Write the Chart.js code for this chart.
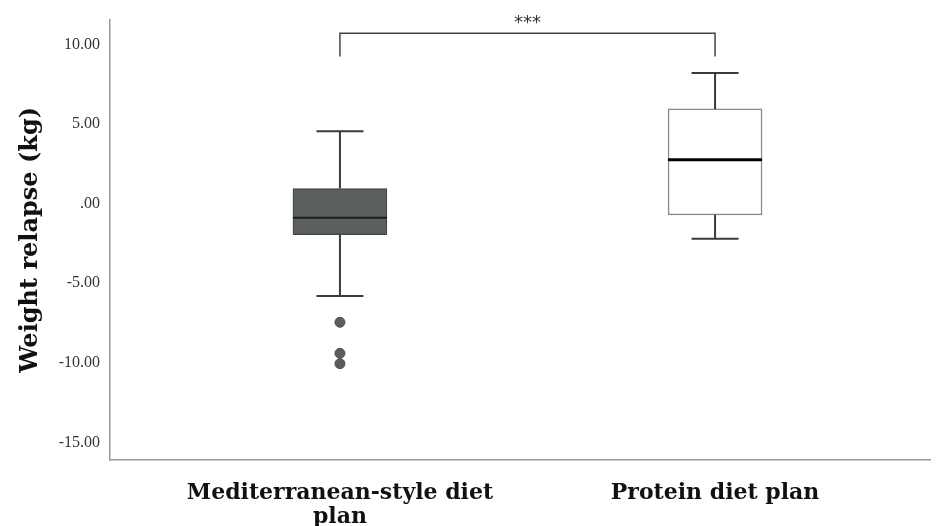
<!DOCTYPE html>
<html>
<head>
<meta charset="utf-8">
<script src="https://cdn.jsdelivr.net/npm/chart.js@4.4.1/dist/chart.umd.min.js"></script>
<style>
  html, body { margin: 0; padding: 0; background: #fff; }
  #wrap { width: 937px; height: 526px; }
</style>
</head>
<body>
<div id="wrap"><canvas id="boxChart"></canvas></div>
<script>
// box plot values (kg)
const categories = [['Mediterranean-style diet', 'plan'], 'Protein diet plan'];
const positions = [1, 2];
const whiskLow = [-5.8, -2.2];
const q1 = [-1.95, -0.7];
const median = [-0.88, 2.75];
const q3 = [0.95, 5.95];
const whiskHigh = [4.55, 8.2];
const outliers = [[-7.45, -9.4, -10.05], []];
const yTicks = [-15, -10, -5, 0, 5, 10];
const sigLabel = '***';

const boxPlugin = {
    id: 'boxParts',
    afterDatasetsDraw(chart) {
        const ctx = chart.ctx;
        const x = chart.scales.x, y = chart.scales.y;
        const bars = chart.getDatasetMeta(0).data;
        ctx.save();
        positions.forEach(function (p, i) {
            const cx = x.getPixelForValue(p);
            const w = bars[i].width;
            const cap = w / 2;
            ctx.strokeStyle = '#3a3a3a';
            ctx.lineWidth = 2;
            ctx.beginPath();
            ctx.moveTo(cx, y.getPixelForValue(q3[i]));
            ctx.lineTo(cx, y.getPixelForValue(whiskHigh[i]));
            ctx.moveTo(cx, y.getPixelForValue(q1[i]));
            ctx.lineTo(cx, y.getPixelForValue(whiskLow[i]));
            ctx.moveTo(cx - cap / 2, y.getPixelForValue(whiskHigh[i]));
            ctx.lineTo(cx + cap / 2, y.getPixelForValue(whiskHigh[i]));
            ctx.moveTo(cx - cap / 2, y.getPixelForValue(whiskLow[i]));
            ctx.lineTo(cx + cap / 2, y.getPixelForValue(whiskLow[i]));
            ctx.stroke();
            // median
            ctx.strokeStyle = i === 0 ? '#1c1f1d' : '#000';
            ctx.lineWidth = i === 0 ? 2 : 3;
            ctx.beginPath();
            ctx.moveTo(cx - w / 2, y.getPixelForValue(median[i]));
            ctx.lineTo(cx + w / 2, y.getPixelForValue(median[i]));
            ctx.stroke();
        });
        // significance bracket
        const xa = x.getPixelForValue(positions[0]);
        const xb = x.getPixelForValue(positions[1]);
        const top = y.getPixelForValue(10.7);
        const leg = y.getPixelForValue(9.25);
        ctx.strokeStyle = '#444';
        ctx.lineWidth = 1.5;
        ctx.beginPath();
        ctx.moveTo(xa, leg);
        ctx.lineTo(xa, top);
        ctx.lineTo(xb, top);
        ctx.lineTo(xb, leg);
        ctx.stroke();
        ctx.fillStyle = '#333';
        ctx.font = '18px "DejaVu Sans"';
        ctx.textAlign = 'center';
        ctx.textBaseline = 'bottom';
        ctx.fillText(sigLabel, (xa + xb) / 2, top - 1);
        ctx.restore();
    }
};

const outlierPoints = [];
outliers.forEach(function (list, i) {
    list.forEach(function (v) { outlierPoints.push({ x: positions[i], y: v }); });
});

new Chart(document.getElementById('boxChart'), {
    type: 'bar',
    data: {
        datasets: [{
            type: 'bar',
            data: positions.map(function (p, i) { return { x: p, y: [q1[i], q3[i]] }; }),
            backgroundColor: ['#5b605d', '#ffffff'],
            borderColor: ['#474a48', '#8a8a8a'],
            borderWidth: 1.5,
            borderSkipped: false,
            barThickness: 94
        }, {
            type: 'scatter',
            data: outlierPoints,
            pointRadius: 5,
            pointBackgroundColor: '#5a5d5b',
            pointBorderColor: '#4a4d4b',
            pointBorderWidth: 1
        }]
    },
    options: {
        responsive: true,
        maintainAspectRatio: false,
        animation: false,
        layout: { padding: { top: 17, right: 7, left: 0, bottom: 0 } },
        plugins: { legend: { display: false }, tooltip: { enabled: false } },
        scales: {
            x: {
                type: 'linear',
                offset: false,
                min: 0.387,
                max: 2.573,
                grid: { display: false, drawTicks: false },
                border: { display: true, color: '#9a9a9a', width: 1.5 },
                afterBuildTicks: function (scale) {
                    scale.ticks = positions.map(function (p) { return { value: p }; });
                },
                afterFit: function (scale) { scale.height = 66; },
                ticks: {
                    autoSkip: false,
                    maxRotation: 0,
                    padding: 21,
                    color: '#111',
                    font: { family: '"DejaVu Serif", serif', size: 22, weight: 'bold', lineHeight: 1.1 },
                    callback: function (v) { return categories[positions.indexOf(v)]; }
                }
            },
            y: {
                min: -16.1,
                max: 11.56,
                grid: { display: false, drawTicks: false },
                border: { display: true, color: '#9a9a9a', width: 1.5 },
                afterBuildTicks: function (scale) {
                    scale.ticks = yTicks.map(function (v) { return { value: v }; });
                },
                afterFit: function (scale) { scale.width = 110; },
                ticks: {
                    padding: 10,
                    color: '#333',
                    font: { family: '"Liberation Serif", "DejaVu Serif", serif', size: 16 },
                    callback: function (v) { return v === 0 ? '.00' : v.toFixed(2); }
                },
                title: {
                    display: true,
                    text: 'Weight relapse (kg)',
                    color: '#111',
                    padding: { top: 16, bottom: 4 },
                    font: { family: '"DejaVu Serif", serif', size: 24, weight: 'bold' }
                }
            }
        }
    },
    plugins: [boxPlugin]
});
</script>
</body>
</html>
